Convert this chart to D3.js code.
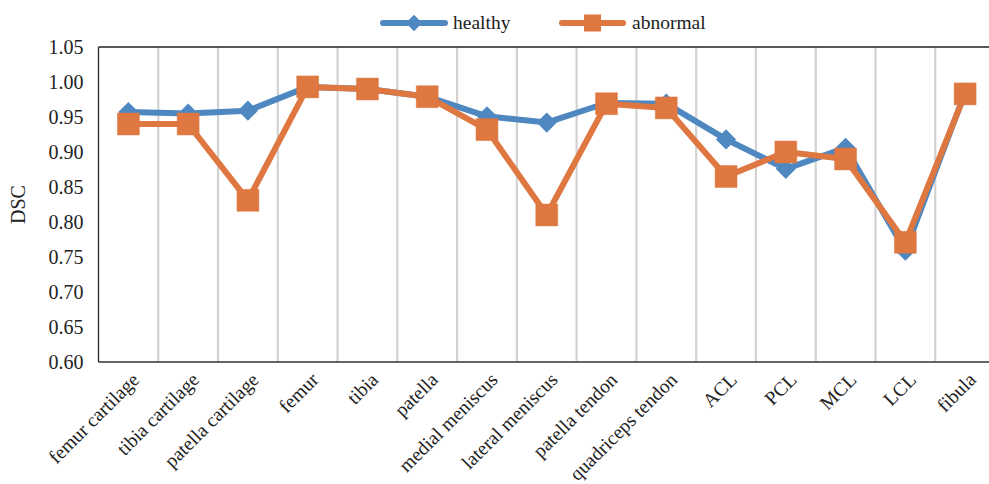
<!DOCTYPE html>
<html>
<head>
<meta charset="utf-8">
<script src="https://cdn.jsdelivr.net/npm/d3@7"></script>
<style>
  html, body { margin: 0; padding: 0; background: #fff; }
  svg { display: block; font-family: "Liberation Serif", "Times New Roman", serif; }
</style>
</head>
<body>
<svg id="chart" width="989" height="484"></svg>
<script>
// Knee structures and their Dice similarity coefficients
const categories = [
  "femur cartilage", "tibia cartilage", "patella cartilage", "femur", "tibia",
  "patella", "medial meniscus", "lateral meniscus", "patella tendon",
  "quadriceps tendon", "ACL", "PCL", "MCL", "LCL", "fibula"
];
const healthy = [0.957, 0.955, 0.959, 0.993, 0.990, 0.979, 0.951, 0.942, 0.970, 0.969, 0.918, 0.876, 0.906, 0.759, 0.985];
const abnormal = [0.940, 0.940, 0.831, 0.993, 0.990, 0.979, 0.932, 0.810, 0.969, 0.963, 0.865, 0.900, 0.890, 0.771, 0.983];
const yTicks = [0.60, 0.65, 0.70, 0.75, 0.80, 0.85, 0.90, 0.95, 1.00, 1.05];
const seriesNames = ["healthy", "abnormal"];

const colors = { healthy: "#4f88c1", abnormal: "#df7741" };

const svg = d3.select("#chart");
const plotLeft = 98.5, plotRight = 995, plotTop = 47, plotBottom = 362;

const x = d3.scaleBand().domain(categories).range([plotLeft, plotRight]).padding(0);
const y = d3.scaleLinear().domain([0.60, 1.05]).range([plotBottom, plotTop]);

// Vertical separators between categories
svg.append("g")
  .selectAll("line")
  .data(categories.slice(1))
  .join("line")
  .attr("x1", d => x(d)).attr("x2", d => x(d))
  .attr("y1", plotTop).attr("y2", plotBottom)
  .attr("stroke", "#d2d2d2").attr("stroke-width", 2.2);

// Plot frame: top, left and bottom edges
svg.append("line").attr("x1", plotLeft).attr("x2", plotRight).attr("y1", plotTop).attr("y2", plotTop)
  .attr("stroke", "#222").attr("stroke-width", 1.3);
svg.append("line").attr("x1", plotLeft).attr("x2", plotLeft).attr("y1", plotTop).attr("y2", plotBottom)
  .attr("stroke", "#222").attr("stroke-width", 1.3);
svg.append("line").attr("x1", plotLeft).attr("x2", plotRight).attr("y1", plotBottom).attr("y2", plotBottom)
  .attr("stroke", "#333").attr("stroke-width", 1.6);

// Y axis labels
const yAxis = d3.axisLeft(y).tickValues(yTicks).tickFormat(d3.format(".2f")).tickSize(0).tickPadding(15);
const gy = svg.append("g").attr("transform", `translate(${plotLeft},0)`).call(yAxis);
gy.select(".domain").remove();
gy.selectAll("text").attr("font-size", 20).attr("fill", "#222")
  .attr("font-family", "Liberation Serif, Times New Roman, serif");

// X axis labels, rotated
const xAxis = d3.axisBottom(x).tickSize(0).tickPadding(0);
const gx = svg.append("g").attr("transform", `translate(0,${plotBottom})`).call(xAxis);
gx.select(".domain").remove();
gx.selectAll("text")
  .attr("font-size", 19.5).attr("fill", "#222")
  .attr("font-family", "Liberation Serif, Times New Roman, serif")
  .attr("text-anchor", "end")
  .attr("dy", null).attr("y", null)
  .attr("transform", "translate(12,19) rotate(-45)");

// Y axis title
svg.append("text")
  .attr("transform", `translate(25,${(plotTop + plotBottom) / 2}) rotate(-90)`)
  .attr("text-anchor", "middle")
  .attr("font-size", 20).attr("fill", "#222")
  .text("DSC");

const cx = d => x(d) + x.bandwidth() / 2;
const line = d3.line().x((d, i) => cx(categories[i])).y(d => y(d));

const diamond = d3.symbol().type(d3.symbolDiamond2).size(260);
const square = d3.symbol().type(d3.symbolSquare).size(480);

// Healthy series
svg.append("path").datum(healthy).attr("d", line)
  .attr("fill", "none").attr("stroke", colors.healthy).attr("stroke-width", 6)
  .attr("stroke-linejoin", "round");
svg.append("g").selectAll("path").data(healthy).join("path")
  .attr("d", diamond)
  .attr("transform", (d, i) => `translate(${cx(categories[i])},${y(d)})`)
  .attr("fill", colors.healthy);

// Abnormal series
svg.append("path").datum(abnormal).attr("d", line)
  .attr("fill", "none").attr("stroke", colors.abnormal).attr("stroke-width", 6)
  .attr("stroke-linejoin", "round");
svg.append("g").selectAll("path").data(abnormal).join("path")
  .attr("d", square)
  .attr("transform", (d, i) => `translate(${cx(categories[i])},${y(d)})`)
  .attr("fill", colors.abnormal)
  .attr("stroke", colors.abnormal).attr("stroke-width", 0.5);

// Legend
const legendItems = [
  { name: seriesNames[0], x0: 383, x1: 445, color: colors.healthy, sym: d3.symbol().type(d3.symbolDiamond2).size(170), tx: 453 },
  { name: seriesNames[1], x0: 562, x1: 623, color: colors.abnormal, sym: d3.symbol().type(d3.symbolSquare).size(290), tx: 632 }
];
const ly = 23;
const lg = svg.append("g").selectAll("g").data(legendItems).join("g");
lg.append("line")
  .attr("x1", d => d.x0).attr("x2", d => d.x1).attr("y1", ly).attr("y2", ly)
  .attr("stroke", d => d.color).attr("stroke-width", 6).attr("stroke-linecap", "round");
lg.append("path")
  .attr("d", d => d.sym())
  .attr("transform", d => `translate(${(d.x0 + d.x1) / 2},${ly})`)
  .attr("fill", d => d.color);
lg.append("text")
  .attr("x", d => d.tx).attr("y", ly + 6)
  .attr("font-size", 19.5).attr("fill", "#222")
  .text(d => d.name);
</script>
</body>
</html>
